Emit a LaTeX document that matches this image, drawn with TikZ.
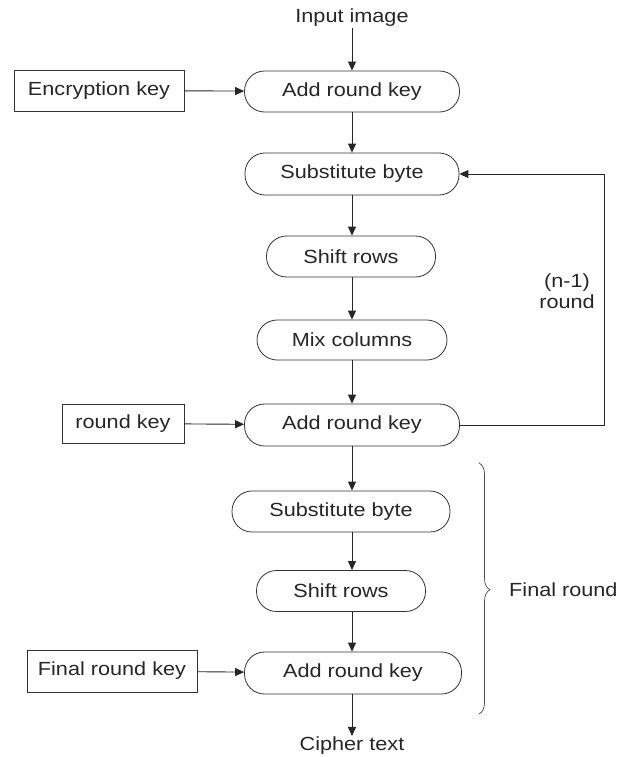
\documentclass[tikz,border=0pt]{standalone}
\usepackage{fontspec}
\setmainfont{Liberation Sans}[FakeStretch=1.14]
\usetikzlibrary{arrows.meta,decorations.pathreplacing}
\begin{document}
\begin{tikzpicture}[x=1pt,y=-1pt,
  font=\fontsize{19}{21}\selectfont, text=black!85,
  line/.style={draw=black!85, line width=0.9pt},
  flow/.style={line, -{Triangle[length=9pt,width=8pt]}},
  stage/.style={draw=black!80, line width=0.8pt, rounded corners=20pt,
    minimum height=41pt, inner sep=0pt},
  keybox/.style={draw=black!80, line width=0.8pt, minimum height=41pt, inner sep=0pt},
  label/.style={inner sep=1pt}]
\useasboundingbox (0,0) rectangle (624,757);

% main chain
\node[label] (inp) at (352,18) {Input image};
\node[stage, minimum width=215pt] (ark1) at (352,91.5) {Add round key};
\node[keybox, minimum width=170pt] (enc) at (99,90.5) {Encryption key};

\node[stage, minimum width=214pt, minimum height=42pt] (sb1) at (352,174) {Substitute byte};
\node[stage, minimum width=169pt] (sr1) at (351,256.5) {Shift rows};
\node[stage, minimum width=190pt, minimum height=40pt] (mc) at (352,340) {Mix columns};
\node[stage, minimum width=215pt, minimum height=42pt] (ark2) at (352,425) {Add round key};
\node[keybox, minimum width=122pt, minimum height=39pt] (rk) at (123,423.5) {round key};

% final round
\node[stage, minimum width=218pt] (sb2) at (341,511.5) {Substitute byte};
\node[stage, minimum width=169pt] (sr2) at (341,591) {Shift rows};
\node[stage, minimum width=217pt, minimum height=42pt] (ark3) at (353,673) {Add round key};
\node[keybox, minimum width=170pt, minimum height=42pt] (frk) at (112,671) {Final round key};
\node[label] (ct) at (352,746) {Cipher text};

% connectors
\draw[flow] (inp) -- (ark1);
\draw[flow] (enc) -- (ark1);
\draw[flow] (ark1) -- (sb1);
\draw[flow] (sb1) -- (sr1.north -| sb1);
\draw[flow] (sr1.south -| sb1) -- (mc);
\draw[flow] (mc) -- (ark2);
\draw[flow] (rk) -- (ark2);
\draw[flow] (ark2) -- (ark2.south |- sb2.north);
\draw[flow] (sb2.south -| ark2) -- (ark2.south |- sr2.north);
\draw[flow] (sr2.south -| ark2) -- (ark3.north -| ark2);
\draw[flow] (frk) -- (ark3);
\draw[flow] (ark3.south -| ark2) -- (ct);

% loop back for the (n-1) rounds
\coordinate (lp) at (604,425);
\draw[flow] (ark2.east) -- (lp) |- (sb1.east);
\node[label, align=center, font=\fontsize{19}{21}\selectfont] (nr) at (567,291) {(n-1)\\round};

% final round brace
\coordinate (bt) at (479,463);
\coordinate (bb) at (479,714);
\draw[draw=black!70, line width=0.7pt, decorate,
  decoration={brace, amplitude=11pt, aspect=0.505}] (bt) -- (bb);
\node[label, anchor=west] (fr) at (508,590) {Final round};
\end{tikzpicture}
\end{document}
